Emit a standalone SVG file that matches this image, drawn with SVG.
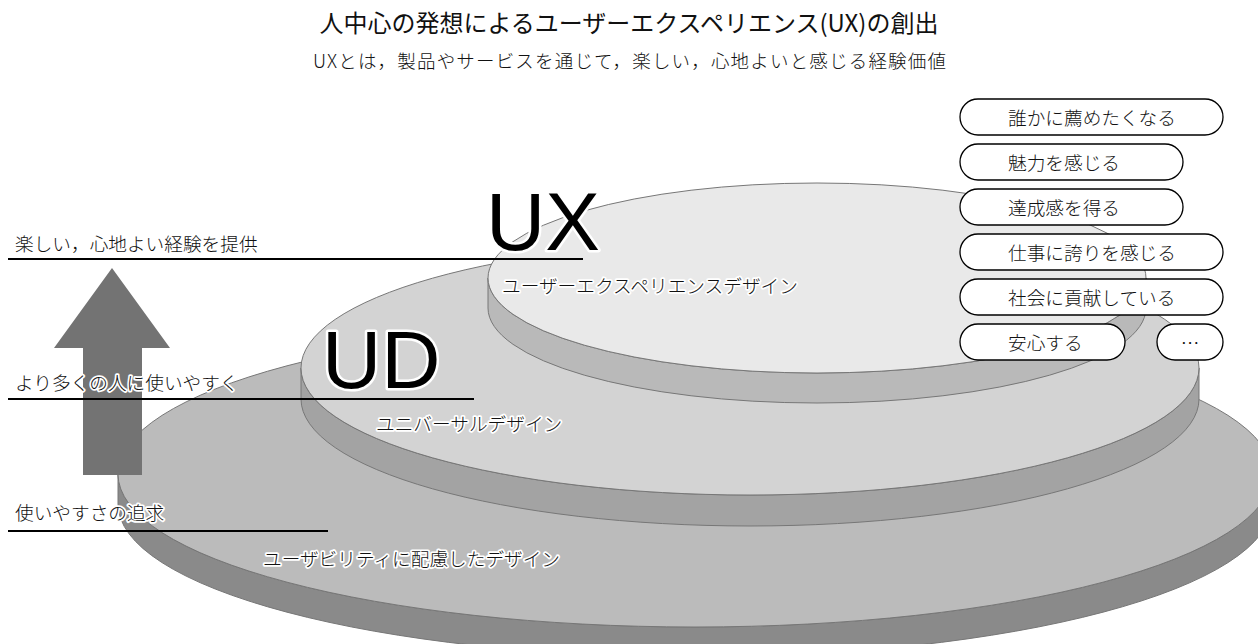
<svg xmlns="http://www.w3.org/2000/svg" width="1258" height="644" viewBox="0 0 1258 644">
<style>
  .jp { font-family: "Noto Sans CJK JP", "Noto Sans CJK SC", sans-serif; fill: #111; font-weight: 300; }
  .ttl { font-weight: 400; }
  .lbl { font-size: 18.67px; }
  .halo { stroke: #fff; stroke-width: 3.5px; stroke-linejoin: round; paint-order: stroke; }
  .big { font-family: "Liberation Sans", Arial, sans-serif; font-size: 82px; fill: #000; stroke: #fff; stroke-width: 5px; stroke-linejoin: round; paint-order: stroke; }
  .edge { stroke: #777; stroke-width: 1; }
  .pill { fill: #fff; stroke: #000; stroke-width: 1.3; }
  .guide { stroke: #000; stroke-width: 2; }
</style>

<g id="title">
  <text class="jp ttl" x="629" y="32" font-size="24" text-anchor="middle">人中心の発想によるユーザーエクスペリエンス(UX)の創出</text>
  <text class="jp" x="313" y="68" font-size="18.5" textLength="633" lengthAdjust="spacing">UXとは，製品やサービスを通じて，楽しい，心地よいと感じる経験価値</text>
</g>

<g id="disc-usability">
  <path class="edge" fill="#8a8a8a" d="M118,474 A577,153 0 0 0 1272,474 L1272,504 A577,153 0 0 1 118,504 Z"/>
  <ellipse class="edge" cx="695" cy="474" rx="577" ry="153" fill="#bbbbbb"/>
</g>

<g id="disc-ud">
  <path class="edge" fill="#a3a3a3" d="M301,368 A449,127 0 0 0 1199,368 L1199,399 A449,127 0 0 1 301,399 Z"/>
  <ellipse class="edge" cx="750" cy="368" rx="449" ry="127" fill="#d3d3d3"/>
</g>

<g id="disc-ux">
  <path class="edge" fill="#b9b9b9" d="M488,278 A329,95 0 0 0 1146,278 L1146,308 A329,95 0 0 1 488,308 Z"/>
  <ellipse class="edge" cx="817" cy="278" rx="329" ry="95" fill="#e9e9e9"/>
</g>

<g id="arrow">
  <polygon points="112,268 170,348 142,348 142,475 83,475 83,348 54,348" fill="#737373"/>
</g>

<g id="connectors">
  <line class="guide" x1="8" y1="259" x2="583" y2="259"/>
  <line class="guide" x1="8" y1="399" x2="474" y2="399"/>
  <line class="guide" x1="8" y1="531" x2="328" y2="531"/>
</g>

<g id="level-labels">
  <text class="jp lbl halo" x="15" y="251">楽しい，心地よい経験を提供</text>
  <text class="jp lbl halo" x="15" y="390">より多くの人に使いやすく</text>
  <text class="jp lbl halo" x="15" y="520">使いやすさの追求</text>
</g>

<g id="disc-labels">
  <text class="big" x="486" y="250">UX</text>
  <text class="jp lbl halo" x="502" y="293">ユーザーエクスペリエンスデザイン</text>
  <text class="big" x="322" y="388">UD</text>
  <text class="jp lbl halo" x="376" y="431">ユニバーサルデザイン</text>
  <text class="jp lbl halo" x="263" y="566">ユーザビリティに配慮したデザイン</text>
</g>

<g id="pill-1"><rect class="pill" x="960" y="99" width="263" height="36" rx="18"/><text class="jp lbl" x="1008" y="125">誰かに薦めたくなる</text></g>
<g id="pill-2"><rect class="pill" x="960" y="144" width="223" height="36" rx="18"/><text class="jp lbl" x="1008" y="170">魅力を感じる</text></g>
<g id="pill-3"><rect class="pill" x="960" y="189" width="223" height="36" rx="18"/><text class="jp lbl" x="1008" y="215">達成感を得る</text></g>
<g id="pill-4"><rect class="pill" x="960" y="234" width="263" height="36" rx="18"/><text class="jp lbl" x="1008" y="260">仕事に誇りを感じる</text></g>
<g id="pill-5"><rect class="pill" x="960" y="279" width="263" height="36" rx="18"/><text class="jp lbl" x="1008" y="305">社会に貢献している</text></g>
<g id="pill-6"><rect class="pill" x="960" y="324" width="165" height="36" rx="18"/><text class="jp lbl" x="1008" y="350">安心する</text></g>
<g id="pill-7"><rect class="pill" x="1157" y="324" width="66" height="36" rx="18"/><text class="jp lbl" x="1190" y="350" text-anchor="middle">…</text></g>
</svg>
